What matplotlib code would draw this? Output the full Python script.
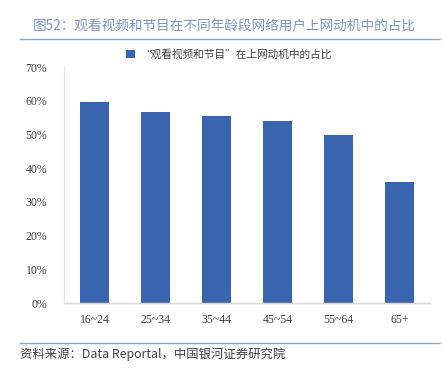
import matplotlib
matplotlib.use("Agg")
import matplotlib.pyplot as plt
from matplotlib.lines import Line2D

plt.rcParams['font.family'] = ['Noto Sans CJK SC', 'DejaVu Sans']

categories = ["16~24", "25~34", "35~44", "45~54", "55~64", "65+"]
values = [59.6, 56.7, 55.5, 54.0, 49.9, 35.9]
yticks = [0, 10, 20, 30, 40, 50, 60, 70]
series_name = "“观看视频和节目”在上网动机中的占比"
title = "图52：观看视频和节目在不同年龄段网络用户上网动机中的占比"
source = "资料来源：Data Reportal，中国银河证券研究院"

W, H = 442, 371
fig = plt.figure(figsize=(W / 100, H / 100), dpi=100)
ax = fig.add_axes([64 / W, 1 - 303 / H, (430 - 64) / W, (303 - 67) / H])

bar_color = "#3a64ad"
x = list(range(len(categories)))
ax.bar(x, values, width=0.46, color=bar_color, zorder=2, label=series_name)
ax.set_xlim(-0.5, len(categories) - 0.5)
ax.set_ylim(0, 70)
ax.set_yticks(yticks)
ax.set_yticklabels([f"{v}%" for v in yticks], family=['Liberation Serif', 'DejaVu Serif'],
                   fontsize=8.5, color="#404040")
ax.set_xticks(x)
ax.set_xticklabels(categories, family=['Liberation Serif', 'DejaVu Serif'],
                   fontsize=8.5, color="#404040")
ax.tick_params(axis='both', length=0)
ax.tick_params(axis='y', pad=12)
ax.tick_params(axis='x', pad=8)
for s in ['top', 'right']:
    ax.spines[s].set_visible(False)
ax.spines['left'].set_color('#e6e6e6')
ax.spines['bottom'].set_color('#d9d9d9')
ax.spines['bottom'].set_zorder(3)
ax.spines['bottom'].set_linewidth(1.0)

leg = ax.legend(loc='lower center', bbox_to_anchor=(0.45, 1.0), frameon=False,
                fontsize=7.7, handlelength=0.8, handleheight=0.8, handletextpad=0.5,
                borderaxespad=0.3)
for t in leg.get_texts():
    t.set_color("#404040")

fig.text(33 / W, 1 - 26 / H, title, fontsize=9.8, color="#7f95c8", va='center', ha='left')
fig.add_artist(Line2D([20 / W, 440 / W], [1 - 39 / H, 1 - 39 / H], color="#8ea3d3", lw=1.0,
                      transform=fig.transFigure))
fig.add_artist(Line2D([20 / W, 440 / W], [1 - 343 / H, 1 - 343 / H], color="#8ea3d3", lw=1.0,
                      transform=fig.transFigure))
fig.text(20 / W, 1 - 354 / H, source, fontsize=8.9, color="#404040", va='center', ha='left',
         style='italic')

fig.savefig("out.png", dpi=100)
